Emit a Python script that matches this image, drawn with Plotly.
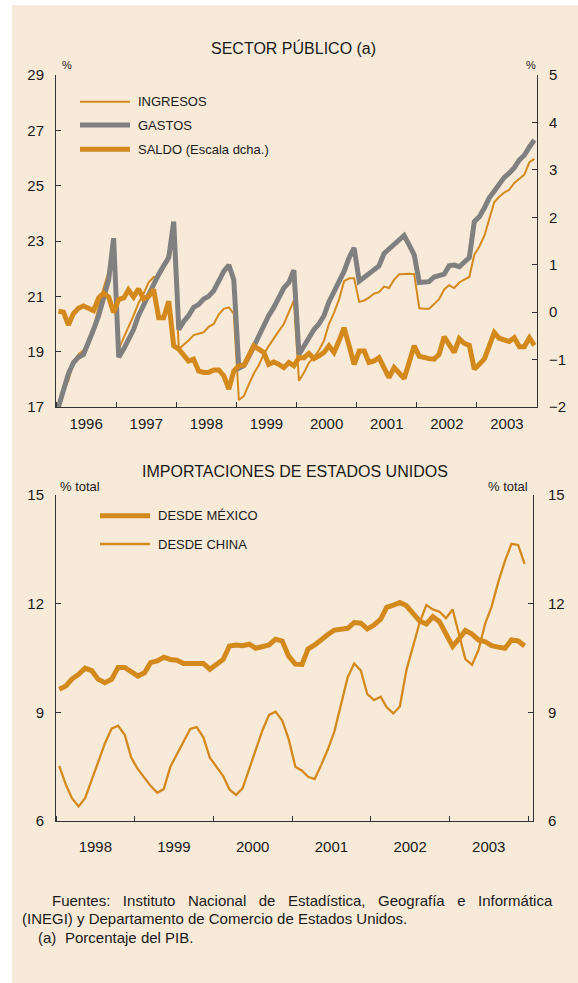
import plotly.graph_objects as go
import pandas as pd

W, H = 578, 983

# ---------------- DATA ----------------
months_top = pd.date_range("1996-01-01", periods=96, freq="MS") + pd.Timedelta(days=15)
months_bot = pd.date_range("1998-01-01", periods=72, freq="MS") + pd.Timedelta(days=15)

ingresos = [
    17.05, 17.6, 17.95, 18.6, 18.9, 19.05, 19.4, 19.85, 20.6, 21.3, 21.9, 23.0,   # 1996
    19.1, 19.5, 19.9, 20.3, 20.75, 21.1, 21.5, 21.7, 21.7, 22.0, 22.6, 23.0,     # 1997
    19.1, 19.25, 19.4, 19.6, 19.65, 19.7, 19.9, 20.0, 20.35, 20.55, 20.6, 20.37, # 1998
    17.25, 17.4, 17.8, 18.2, 18.5, 18.9, 19.2, 19.5, 19.75, 20.0, 20.4, 20.85,   # 1999
    17.95, 18.25, 18.6, 18.8, 19.05, 19.4, 20.0, 20.4, 20.9, 21.55, 21.65, 21.65,# 2000
    20.8, 20.85, 20.95, 21.1, 21.15, 21.35, 21.3, 21.6, 21.8, 21.82, 21.82, 21.8,# 2001
    20.57, 20.55, 20.55, 20.72, 20.9, 21.25, 21.4, 21.3, 21.5, 21.6, 21.7, 22.5, # 2002
    22.8, 23.2, 23.8, 24.4, 24.6, 24.75, 24.85, 25.1, 25.25, 25.4, 25.85, 25.97, # 2003
]
gastos = [
    17.0, 17.6, 18.2, 18.6, 18.8, 18.9, 19.3, 19.8, 20.3, 20.9, 21.6, 23.1,
    18.8, 19.1, 19.4, 19.8, 20.3, 20.7, 21.1, 21.4, 21.8, 22.1, 22.4, 23.7,
    19.8, 20.1, 20.3, 20.6, 20.7, 20.9, 21.0, 21.2, 21.6, 21.9, 22.13, 21.6,
    18.4, 18.5, 18.8, 19.2, 19.5, 19.9, 20.3, 20.6, 21.0, 21.3, 21.5, 21.95,
    18.9, 19.2, 19.5, 19.8, 20.0, 20.3, 20.8, 21.2, 21.5, 21.9, 22.4, 22.75,
    21.55, 21.7, 21.8, 21.95, 22.1, 22.55, 22.7, 22.85, 23.0, 23.2, 22.85, 22.5,
    21.5, 21.53, 21.53, 21.7, 21.75, 21.8, 22.1, 22.13, 22.07, 22.25, 22.4, 23.7,
    23.88, 24.2, 24.55, 24.8, 25.08, 25.3, 25.45, 25.65, 25.93, 26.1, 26.4, 26.65,
]
saldo = [
    0.02, 0.0, -0.27, -0.03, 0.08, 0.13, 0.08, 0.03, 0.3, 0.4, 0.32, -0.01,
    0.27, 0.3, 0.47, 0.32, 0.49, 0.28, 0.33, 0.48, -0.12, -0.12, 0.23, -0.71,
    -0.78, -0.92, -1.03, -0.99, -1.24, -1.27, -1.27, -1.22, -1.22, -1.34, -1.62, -1.24,
    -1.13, -1.12, -0.9, -0.71, -0.78, -0.85, -1.1, -1.05, -1.1, -1.17, -1.06, -1.13,
    -0.96, -0.96, -0.87, -0.98, -0.92, -0.85, -0.71, -0.85, -0.6, -0.33, -0.71, -1.1,
    -0.82, -0.82, -1.06, -1.03, -0.96, -1.15, -1.38, -1.17, -1.3, -1.4, -1.05, -0.71,
    -0.93, -0.97, -0.98, -0.99, -0.89, -0.52, -0.7, -0.85, -0.56, -0.66, -0.7, -1.2,
    -1.1, -0.98, -0.72, -0.43, -0.55, -0.6, -0.62, -0.54, -0.73, -0.73, -0.54, -0.7,
]
mexico = [
    9.64, 9.73, 9.92, 10.05, 10.22, 10.15, 9.91, 9.82, 9.91, 10.24, 10.24, 10.12,
    10.0, 10.09, 10.37, 10.42, 10.52, 10.46, 10.44, 10.35, 10.36, 10.37, 10.35, 10.19,
    10.31, 10.46, 10.83, 10.86, 10.84, 10.88, 10.77, 10.8, 10.86, 11.02, 10.97, 10.55,
    10.33, 10.32, 10.75, 10.86, 11.02, 11.15, 11.27, 11.31, 11.32, 11.48, 11.46, 11.3,
    11.41, 11.57, 11.9, 11.96, 12.03, 11.94, 11.73, 11.52, 11.44, 11.64, 11.5, 11.13,
    10.82, 11.04, 11.26, 11.16, 11.0, 10.95, 10.84, 10.8, 10.77, 11.0, 10.97, 10.83,
]
china = [
    7.52, 7.0, 6.63, 6.4, 6.63, 7.15, 7.68, 8.14, 8.55, 8.63, 8.38, 7.75,
    7.43, 7.2, 6.97, 6.78, 6.88, 7.5, 7.85, 8.22, 8.54, 8.59, 8.31, 7.75,
    7.5, 7.24, 6.87, 6.72, 6.9, 7.45, 8.0, 8.5, 8.93, 9.02, 8.77, 8.26,
    7.5, 7.39, 7.22, 7.16, 7.55, 7.98, 8.47, 9.2, 9.97, 10.35, 10.15, 9.5,
    9.34, 9.43, 9.14, 8.97, 9.16, 10.18, 10.79, 11.48, 11.96, 11.84, 11.78, 11.6,
    11.84, 11.12, 10.47, 10.31, 10.72, 11.45, 11.92, 12.6, 13.18, 13.65, 13.62, 13.1,
]

ORANGE = "#D4891C"
GRAY = "#808080"
BEIGE = "#F8EAD8"
TXT = "#1a1a1a"
AX = "#333333"
FONT = "Liberation Sans, Arial, sans-serif"


def X(px):
    return px / W


def Y(py):
    return 1 - py / H


fig = go.Figure()

fig.add_trace(go.Scatter(x=months_top, y=ingresos, mode="lines", name="INGRESOS",
                         line=dict(color=ORANGE, width=2), xaxis="x", yaxis="y"))
fig.add_trace(go.Scatter(x=months_top, y=gastos, mode="lines", name="GASTOS",
                         line=dict(color=GRAY, width=5), xaxis="x", yaxis="y"))
fig.add_trace(go.Scatter(x=months_top, y=saldo, mode="lines", name="SALDO (Escala dcha.)",
                         line=dict(color=ORANGE, width=5), xaxis="x", yaxis="y2"))
fig.add_trace(go.Scatter(x=months_bot, y=mexico, mode="lines", name="DESDE MÉXICO",
                         line=dict(color=ORANGE, width=5), xaxis="x2", yaxis="y3"))
fig.add_trace(go.Scatter(x=months_bot, y=china, mode="lines", name="DESDE CHINA",
                         line=dict(color=ORANGE, width=2.3), xaxis="x2", yaxis="y4"))

axcommon = dict(showgrid=False, zeroline=False, showline=True, linecolor=AX, linewidth=1,
                ticks="inside", ticklen=5, tickcolor=AX, tickwidth=1, automargin=False,
                tickfont=dict(family=FONT, size=15, color=TXT))

xcommon = dict(axcommon, type="date", dtick="M12", ticklabelmode="period", tickformat="%Y")

fig.update_layout(
    width=W, height=H,
    margin=dict(l=0, r=0, t=0, b=0, pad=0, autoexpand=False),
    paper_bgcolor="white",
    plot_bgcolor="rgba(0,0,0,0)",
    showlegend=False,
    xaxis=dict(xcommon, domain=[X(56), X(537)], anchor="y",
               range=["1996-01-01", "2004-01-01"], tick0="1996-01-01", ticklabelstandoff=3),
    yaxis=dict(axcommon, domain=[Y(407), Y(75)], anchor="x", range=[17, 29], dtick=2,
               tick0=17, side="left", ticklabelstandoff=8),
    yaxis2=dict(axcommon, overlaying="y", anchor="x", side="right", range=[-2, 5], dtick=1,
                tick0=0, ticklabelstandoff=8),
    xaxis2=dict(xcommon, domain=[X(56), X(533)], anchor="y3",
                range=["1998-01-01", "2004-01-24"], tick0="1998-01-01", ticklabelstandoff=12),
    yaxis3=dict(axcommon, domain=[Y(821), Y(495)], anchor="x2", range=[6, 15], dtick=3,
                tick0=0, side="left", ticklabelstandoff=8),
    yaxis4=dict(axcommon, overlaying="y3", anchor="x2", side="right", range=[6, 15], dtick=3,
                tick0=0, ticklabelstandoff=11),
)

shapes = [dict(type="rect", xref="paper", yref="paper", x0=X(12), x1=1, y0=0, y1=Y(5),
               fillcolor=BEIGE, line=dict(width=0), layer="below")]
annotations = []


def txt(s, px, py, size, xanchor="left"):
    annotations.append(dict(text=s, x=X(px), y=Y(py), xref="paper", yref="paper",
                            xanchor=xanchor, yanchor="middle", showarrow=False,
                            font=dict(family=FONT, size=size, color=TXT)))


def legend_item(label, px0, px1, py, color, width):
    shapes.append(dict(type="line", xref="paper", yref="paper", x0=X(px0), x1=X(px1),
                       y0=Y(py), y1=Y(py), line=dict(color=color, width=width)))
    txt(label, px1 + 6, py, 13)


# titles
txt("SECTOR PÚBLICO (a)", 293, 48, 16, "center")
txt("IMPORTACIONES DE ESTADOS UNIDOS", 295, 471, 16, "center")
# units
txt("%", 67, 65, 11, "center")
txt("%", 531, 65, 11, "center")
txt("% total", 58, 487, 13, "left")
txt("% total", 530, 487, 13, "right")
# legends
legend_item("INGRESOS", 80, 130, 101.7, ORANGE, 2)
legend_item("GASTOS", 80, 130, 125, GRAY, 5)
legend_item("SALDO (Escala dcha.)", 80, 130, 149.3, ORANGE, 5)
legend_item("DESDE MÉXICO", 100, 150, 515.7, ORANGE, 5)
legend_item("DESDE CHINA", 100, 150, 544, ORANGE, 2.3)
# footer (first line justified in the original)
SP = "\u00a0" * 3
txt(SP.join("Fuentes: Instituto Nacional de Estadística, Geografía e Informática".split(" ")),
    50, 900, 15)
txt("(INEGI) y Departamento de Comercio de Estados Unidos.", 20, 918.5, 15)
txt("(a)", 36, 937.5, 15)
txt("Porcentaje del PIB.", 63, 937.5, 15)

fig.update_layout(shapes=shapes, annotations=annotations)

fig.write_html("out.html", config={"displayModeBar": False},
               post_script="document.body.style.margin='0px';document.body.style.padding='0px';")
